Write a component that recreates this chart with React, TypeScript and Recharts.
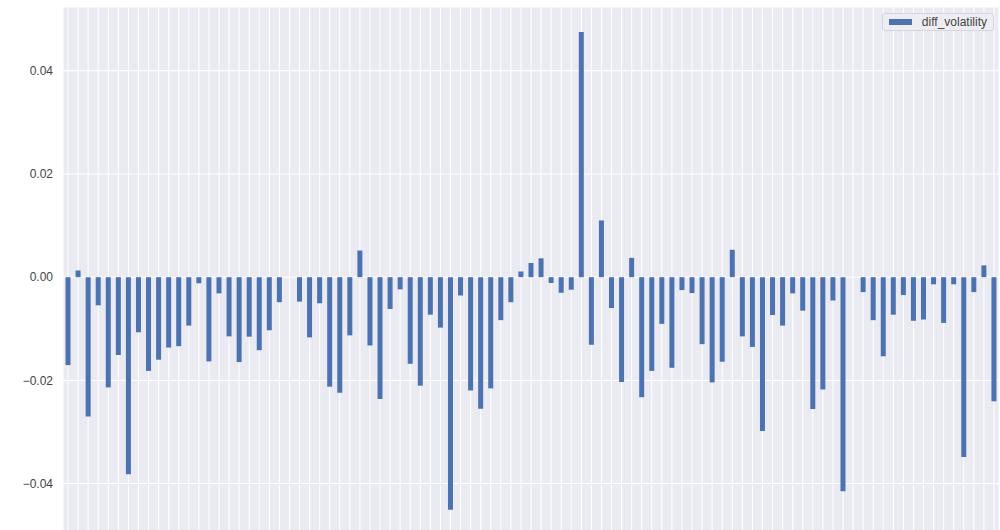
import React from "react";
import {
  BarChart,
  Bar,
  XAxis,
  YAxis,
  CartesianGrid,
  Legend,
} from "recharts";

const SERIES_NAME = "diff_volatility";

// one value per period, left to right
const DIFF_VOLATILITY = [
  -0.01704, 0.0013, -0.027, -0.00545, -0.02136, -0.01508, -0.0382, -0.01068,
  -0.01816, -0.01599, -0.01363, -0.01337, -0.00938, -0.00118, -0.01632, -0.00314,
  -0.01147, -0.01645, -0.01153, -0.01415, -0.01029, -0.00485, 0.0, -0.00473,
  -0.01167, -0.00506, -0.02122, -0.0224, -0.01128, 0.00517, -0.01324, -0.0236,
  -0.00616, -0.00236, -0.01678, -0.02103, -0.00727, -0.00977, -0.04508, -0.00355,
  -0.02196, -0.02549, -0.02155, -0.00833, -0.00485, 0.0011, 0.00275, 0.00366,
  -0.00112, -0.00302, -0.00243, 0.0475, -0.0131, 0.011, -0.00597, -0.02031,
  0.00374, -0.02326, -0.01816, -0.00905, -0.01756, -0.0025, -0.00308, -0.01298,
  -0.02039, -0.01638, 0.00531, -0.01147, -0.01351, -0.0298, -0.00734, -0.00938,
  -0.00314, -0.00649, -0.02556, -0.02176, -0.00452, -0.04147, 0.0, -0.00289,
  -0.00833, -0.01533, -0.00727, -0.00347, -0.00845, -0.0082, -0.00138, -0.00886,
  -0.00138, -0.03486, -0.00289, 0.00229, -0.02405,
];

const Y_TICKS = [-0.04, -0.02, 0, 0.02, 0.04];

const data = DIFF_VOLATILITY.map((v, i) => ({ idx: i, [SERIES_NAME]: v }));

const BAR_COLOR = "#4C72B0";
const TEXT_COLOR = "#444";
const FONT = '"Liberation Sans", Arial, Helvetica, sans-serif';

const fmt = (v: number) => (v < 0 ? "\u2212" : "") + Math.abs(v).toFixed(2);

// x tick labels sit below the visible area; keep the ticks for the grid only
const EmptyTick = () => <g />;

function LegendBox() {
  return (
    <div
      style={{
        display: "flex",
        alignItems: "center",
        height: 18,
        boxSizing: "border-box",
        background: "#EDEDF3",
        border: "1px solid #d6d6de",
        borderRadius: 3,
        padding: "0 6px 0 6px",
        fontFamily: FONT,
        fontSize: 12,
        color: TEXT_COLOR,
      }}
    >
      <span style={{ display: "inline-block", width: 23, height: 6, background: BAR_COLOR, marginRight: 10 }} />
      <span>{SERIES_NAME}</span>
    </div>
  );
}

export default function App() {
  return (
    <div style={{ position: "absolute", top: 0, left: 0, width: 1000, height: 530, overflow: "hidden", background: "#fff" }}>
      <BarChart
        width={1000}
        height={564}
        data={data}
        margin={{ top: 7, right: 1, bottom: 0, left: 0 }}
        barCategoryGap="25%"
      >
        <CartesianGrid fill="#EAEAF2" stroke="#ffffff" strokeWidth={1} />
        <XAxis
          dataKey="idx"
          type="category"
          interval={0}
          height={30}
          tick={EmptyTick}
          tickLine={false}
          axisLine={false}
        />
        <YAxis
          width={63}
          domain={[-0.04977, 0.05236]}
          ticks={Y_TICKS}
          allowDataOverflow
          tickFormatter={fmt}
          tickLine={false}
          axisLine={false}
          tickMargin={4}
          tick={{ fontSize: 12, fill: TEXT_COLOR, fontFamily: FONT }}
        />
        <Legend
          layout="horizontal"
          verticalAlign="middle"
          align="center"
          content={() => <LegendBox />}
          wrapperStyle={{ position: "absolute", top: 13, left: 882, width: 112 }}
        />
        <Bar dataKey={SERIES_NAME} fill={BAR_COLOR} isAnimationActive={false} />
      </BarChart>
    </div>
  );
}
